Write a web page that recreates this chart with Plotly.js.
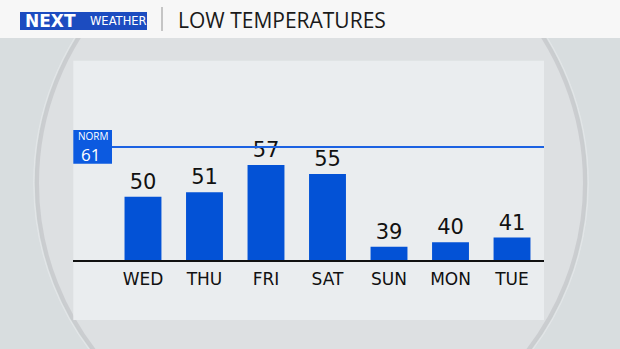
<!DOCTYPE html>
<html>
<head>
<meta charset="utf-8">
<script src="https://cdn.plot.ly/plotly-3.0.1.min.js"></script>
<style>html,body{margin:0;padding:0;background:#d8dddf;}#chart{width:620px;height:349px;}</style>
</head>
<body>
<div id="chart"></div>
<script>
const days = ["WED", "THU", "FRI", "SAT", "SUN", "MON", "TUE"];
const lows = [50, 51, 57, 55, 39, 40, 41];
const normLow = 61;
const titleText = "LOW TEMPERATURES";

const W = 620, H = 349;
const px = v => v / W;
const py = v => 1 - v / H;

const trace = {
  type: "bar",
  x: days,
  y: lows,
  marker: {color: "#0352d6", line: {width: 0}},
  texttemplate: "%{y}",
  textposition: "outside",
  textfont: {family: "DejaVu Sans, sans-serif", size: 21, color: "#111"},
  cliponaxis: false,
  hoverinfo: "skip"
};

const layout = {
  width: W, height: H,
  margin: {l: 0, r: 0, t: 0, b: 0},
  paper_bgcolor: "#d8dddf",
  plot_bgcolor: "rgba(0,0,0,0)",
  showlegend: false,
  bargap: 0.4,
  xaxis: {
    domain: [px(73.3), px(544)],
    range: [-1.133, 6.52],
    showline: true, linecolor: "#111", linewidth: 2,
    showgrid: false, zeroline: false, ticks: "",
    ticklabelstandoff: 2,
    tickfont: {family: "DejaVu Sans, sans-serif", size: 17, color: "#111"},
    fixedrange: true
  },
  yaxis: {
    domain: [py(260.3), py(60.7)],
    range: [36, 80],
    showgrid: false, zeroline: false, showticklabels: false, showline: false,
    fixedrange: true
  },
  shapes: [
    // big circle backdrop
    {type: "circle", xref: "paper", yref: "paper", layer: "below",
     x0: px(311 - 274.5), x1: px(311 + 274.5), y0: py(183 + 274.5), y1: py(183 - 274.5),
     fillcolor: "#dde0e2", line: {color: "rgba(196,199,201,0.75)", width: 5}},
    {type: "circle", xref: "paper", yref: "paper", layer: "below",
     x0: px(311 - 277), x1: px(311 + 277), y0: py(183 + 277), y1: py(183 - 277),
     fillcolor: "rgba(0,0,0,0)", line: {color: "rgba(235,238,240,0.6)", width: 1.5}},
    // header bar
    {type: "rect", xref: "paper", yref: "paper", layer: "below",
     x0: 0, x1: 1, y0: py(38), y1: 1, fillcolor: "#f7f7f7", line: {width: 0}},
    // panel
    {type: "rect", xref: "paper", yref: "paper", layer: "below",
     x0: px(73.3), x1: px(544), y0: py(320), y1: py(60.7), fillcolor: "#eaedef", line: {width: 0}},
    // logo box
    {type: "rect", xref: "paper", yref: "paper", layer: "below",
     x0: px(20), x1: px(147), y0: py(30), y1: py(12), fillcolor: "#1c4cc0", line: {width: 0}},
    // separator
    {type: "line", xref: "paper", yref: "paper",
     x0: px(162), x1: px(162), y0: py(7), y1: py(31), line: {color: "#b5b5b5", width: 1.5}},
    // norm line
    {type: "line", xref: "paper", yref: "y",
     x0: px(112), x1: px(544), y0: normLow, y1: normLow, line: {color: "#1c62e2", width: 2}},
    // norm box
    {type: "rect", xref: "paper", yref: "y", ysizemode: "pixel", yanchor: normLow,
     x0: px(73.3), x1: px(112), y0: -16.8, y1: 16.8,
     fillcolor: "#0c5ae0", line: {width: 0}}
  ],
  annotations: [
    {xref: "paper", yref: "paper", x: px(176), y: py(20), xanchor: "left", yanchor: "middle",
     text: titleText, showarrow: false,
     font: {family: "Open Sans, sans-serif", size: 21, color: "#1a1a1a"}},
    {xref: "paper", yref: "paper", x: px(23), y: py(21), xanchor: "left", yanchor: "middle",
     text: "<b>NEXT</b>", showarrow: false,
     font: {family: "DejaVu Sans, sans-serif", size: 17, color: "#ffffff"}},
    {xref: "paper", yref: "paper", x: px(88), y: py(21.5), xanchor: "left", yanchor: "middle",
     text: "WEATHER", showarrow: false,
     font: {family: "DejaVu Sans, sans-serif", size: 11.5, color: "#ffffff"}},
    {xref: "paper", yref: "y", x: px(92.6), y: normLow, yshift: 10.5, xanchor: "center", yanchor: "middle",
     text: "NORM", showarrow: false, borderpad: 0,
     font: {family: "Open Sans, sans-serif", size: 10, color: "#ffffff"}},
    {xref: "paper", yref: "y", x: px(91), y: normLow, yshift: -7.5, xanchor: "center", yanchor: "middle",
     text: String(normLow), showarrow: false, borderpad: 0,
     font: {family: "Open Sans, sans-serif", size: 17, color: "#ffffff"}}
  ]
};

Plotly.newPlot("chart", [trace], layout, {displayModeBar: false, staticPlot: true});
</script>
</body>
</html>
